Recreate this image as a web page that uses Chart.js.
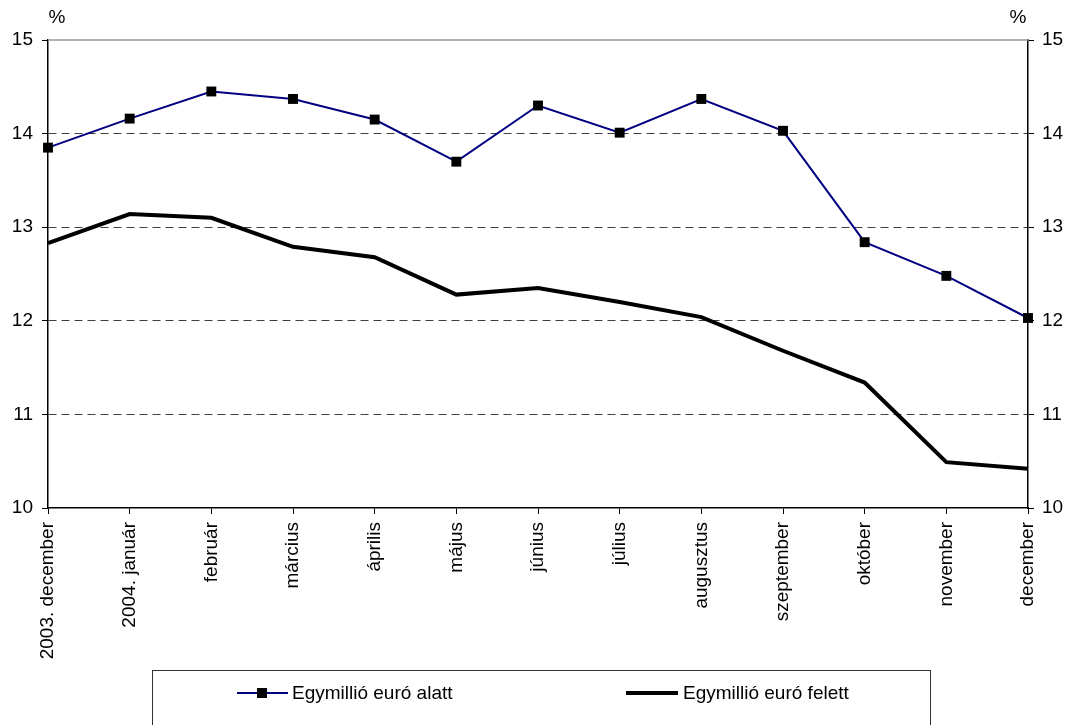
<!DOCTYPE html>
<html>
<head>
<meta charset="utf-8">
<script src="https://cdn.jsdelivr.net/npm/chart.js@4/dist/chart.umd.min.js"></script>
<style>
  html, body { margin: 0; padding: 0; background: #fff; overflow: hidden; }
  #wrap { position: relative; width: 1070px; height: 725px; }
  #legend {
    position: absolute; left: 152px; top: 670px; width: 779px; height: 90px;
    border: 1px solid #333; box-sizing: border-box;
    font-family: "Liberation Sans", Arial, sans-serif; font-size: 19px; color: #000;
  }
  .item { position: absolute; top: 10px; height: 24px; line-height: 24px; white-space: nowrap; }
  .swatch { position: absolute; }
</style>
</head>
<body>
<div id="wrap">
  <canvas id="chart" width="1070" height="725"></canvas>
  <div id="legend">
    <div class="swatch" style="left:84px; top:21px; width:51px; height:2px; background:#000080;"></div>
    <div class="swatch" style="left:104px; top:17px; width:10px; height:10px; background:#000;"></div>
    <div class="item" style="left:139px;">Egymillió euró alatt</div>
    <div class="swatch" style="left:473px; top:20px; width:52px; height:4px; background:#000;"></div>
    <div class="item" style="left:530px;">Egymillió euró felett</div>
  </div>
</div>
<script>
// categories and series
const months = ["2003. december", "2004. január", "február", "március", "április", "május",
  "június", "július", "augusztus", "szeptember", "október", "november", "december"];
const belowMillion = [13.85, 14.16, 14.45, 14.37, 14.15, 13.70, 14.30, 14.01, 14.37, 14.03, 12.84, 12.48, 12.03];
const aboveMillion = [12.83, 13.14, 13.10, 12.79, 12.68, 12.28, 12.35, 12.20, 12.04, 11.68, 11.34, 10.49, 10.42];
const yMin = 10, yMax = 15, yStep = 1;

const font = { family: '"Liberation Sans", Arial, sans-serif', size: 19 };

// percent labels + solid top border
const extras = {
  id: "extras",
  afterDraw(chart) {
    const c = chart.ctx, a = chart.chartArea;
    c.save();
    c.strokeStyle = "#999";
    c.lineWidth = 1.5;
    c.beginPath();
    c.moveTo(a.left, a.top);
    c.lineTo(a.right, a.top);
    c.stroke();
    c.fillStyle = "#000";
    c.font = "19px " + font.family;
    c.textAlign = "center";
    c.textBaseline = "middle";
    c.fillText("%", 57, 18);
    c.fillText("%", 1018, 18);
    c.restore();
  }
};

const gridColor = ctx => (ctx.tick && (ctx.tick.value === yMax || ctx.tick.value === yMin)) ? "rgba(0,0,0,0)" : "#404040";

new Chart(document.getElementById("chart").getContext("2d"), {
  type: "line",
  data: {
    labels: months,
    datasets: [
      {
        label: "Egymillió euró alatt",
        data: belowMillion,
        borderColor: "#000080",
        borderWidth: 2,
        pointStyle: "rect",
        pointRadius: 7,
        pointBackgroundColor: "#000",
        pointBorderColor: "#000",
        pointBorderWidth: 0,
        tension: 0,
        clip: false
      },
      {
        label: "Egymillió euró felett",
        data: aboveMillion,
        borderColor: "#000",
        borderWidth: 4,
        pointRadius: 0,
        tension: 0,
        clip: false
      }
    ]
  },
  options: {
    responsive: false,
    animation: false,
    layout: { padding: { top: 40, left: 0, right: 0, bottom: 0 } },
    plugins: { legend: { display: false }, tooltip: { enabled: false } },
    scales: {
      x: {
        offset: false,
        grid: { drawOnChartArea: false, drawTicks: true, tickLength: 6, tickColor: "#000" },
        border: { display: true, color: "#000", width: 1.5 },
        ticks: { color: "#000", font: font, maxRotation: 90, minRotation: 90, padding: 8, autoSkip: false },
        afterFit(s) { s.height = 217; }
      },
      y: {
        position: "left",
        min: yMin, max: yMax,
        grid: { color: gridColor, lineWidth: 1, drawTicks: true, tickLength: 6, tickColor: "#000", tickBorderDash: [] },
        border: { display: true, color: "#000", width: 1.5, dash: [8, 5] },
        ticks: { stepSize: yStep, color: "#000", font: font, padding: 9 },
        afterFit(s) { s.width = 48; }
      },
      y2: {
        position: "right",
        min: yMin, max: yMax,
        grid: { drawOnChartArea: false, drawTicks: true, tickLength: 6, tickColor: "#000" },
        border: { display: true, color: "#000", width: 1.5 },
        ticks: { stepSize: yStep, color: "#000", font: font, padding: 8 },
        afterFit(s) { s.width = 42; }
      }
    }
  },
  plugins: [extras]
});
</script>
</body>
</html>
